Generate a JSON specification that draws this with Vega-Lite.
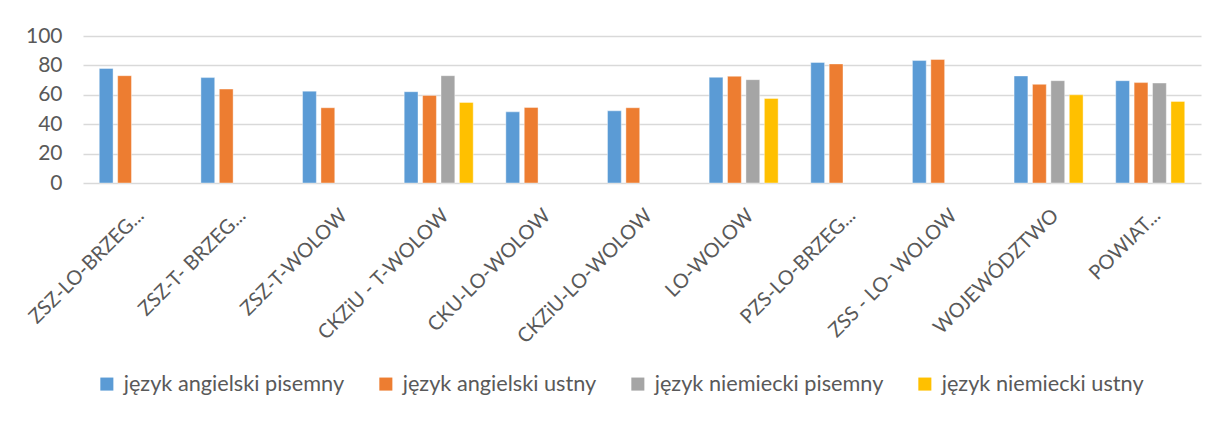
{
  "$schema": "https://vega.github.io/schema/vega-lite/v6.json",
  "autosize": {"type": "none"},
  "width": 1118,
  "height": 147,
  "padding": {"left": 83, "top": 36, "right": 28, "bottom": 240},
  "background": "white",
  "config": {
    "font": "Lato",
    "view": {"stroke": null},
    "axis": {"labelColor": "#595959", "labelFont": "Lato"},
    "legend": {"labelColor": "#595959", "labelFont": "Lato"}
  },
  "data": {
    "values": [
      {"szkola": "ZSZ-LO-BRZEG...", "seria": "język angielski pisemny", "wynik": 77.9},
      {"szkola": "ZSZ-LO-BRZEG...", "seria": "język angielski ustny", "wynik": 73.0},
      {"szkola": "ZSZ-T- BRZEG...", "seria": "język angielski pisemny", "wynik": 71.7},
      {"szkola": "ZSZ-T- BRZEG...", "seria": "język angielski ustny", "wynik": 63.9},
      {"szkola": "ZSZ-T-WOLOW", "seria": "język angielski pisemny", "wynik": 62.5},
      {"szkola": "ZSZ-T-WOLOW", "seria": "język angielski ustny", "wynik": 51.2},
      {"szkola": "CKZiU - T-WOLOW", "seria": "język angielski pisemny", "wynik": 62.1},
      {"szkola": "CKZiU - T-WOLOW", "seria": "język angielski ustny", "wynik": 59.6},
      {"szkola": "CKZiU - T-WOLOW", "seria": "język niemiecki pisemny", "wynik": 73.0},
      {"szkola": "CKZiU - T-WOLOW", "seria": "język niemiecki ustny", "wynik": 54.8},
      {"szkola": "CKU-LO-WOLOW", "seria": "język angielski pisemny", "wynik": 48.4},
      {"szkola": "CKU-LO-WOLOW", "seria": "język angielski ustny", "wynik": 51.4},
      {"szkola": "CKZiU-LO-WOLOW", "seria": "język angielski pisemny", "wynik": 49.1},
      {"szkola": "CKZiU-LO-WOLOW", "seria": "język angielski ustny", "wynik": 51.2},
      {"szkola": "LO-WOLOW", "seria": "język angielski pisemny", "wynik": 71.9},
      {"szkola": "LO-WOLOW", "seria": "język angielski ustny", "wynik": 72.6},
      {"szkola": "LO-WOLOW", "seria": "język niemiecki pisemny", "wynik": 70.3},
      {"szkola": "LO-WOLOW", "seria": "język niemiecki ustny", "wynik": 57.5},
      {"szkola": "PZS-LO-BRZEG...", "seria": "język angielski pisemny", "wynik": 82.0},
      {"szkola": "PZS-LO-BRZEG...", "seria": "język angielski ustny", "wynik": 81.0},
      {"szkola": "ZSS - LO- WOLOW", "seria": "język angielski pisemny", "wynik": 83.3},
      {"szkola": "ZSS - LO- WOLOW", "seria": "język angielski ustny", "wynik": 84.0},
      {"szkola": "WOJEWÓDZTWO", "seria": "język angielski pisemny", "wynik": 72.8},
      {"szkola": "WOJEWÓDZTWO", "seria": "język angielski ustny", "wynik": 67.1},
      {"szkola": "WOJEWÓDZTWO", "seria": "język niemiecki pisemny", "wynik": 69.6},
      {"szkola": "WOJEWÓDZTWO", "seria": "język niemiecki ustny", "wynik": 60.0},
      {"szkola": "POWIAT...", "seria": "język angielski pisemny", "wynik": 69.6},
      {"szkola": "POWIAT...", "seria": "język angielski ustny", "wynik": 68.3},
      {"szkola": "POWIAT...", "seria": "język niemiecki pisemny", "wynik": 68.0},
      {"szkola": "POWIAT...", "seria": "język niemiecki ustny", "wynik": 55.5}
    ]
  },
  "mark": {"type": "bar", "stroke": "white", "strokeOpacity": 0.5, "strokeWidth": 0.8},
  "encoding": {
    "x": {
      "field": "szkola",
      "type": "nominal",
      "sort": null,
      "scale": {"paddingInner": 0.321, "paddingOuter": 0.16},
      "axis": {
        "title": null,
        "labelAngle": -45,
        "labelAlign": "right",
        "labelBaseline": "top",
        "labelFontSize": 20,
        "labelPadding": 22,
        "ticks": false,
        "domain": false,
        "grid": false,
        "labelOverlap": false,
        "labelLimit": 300
      }
    },
    "xOffset": {
      "field": "seria",
      "type": "nominal",
      "scale": {
        "domain": ["język angielski pisemny", "język angielski ustny", "język niemiecki pisemny", "język niemiecki ustny"],
        "paddingInner": 0.25,
        "paddingOuter": 0
      }
    },
    "y": {
      "field": "wynik",
      "type": "quantitative",
      "scale": {"domain": [0, 100], "nice": false},
      "axis": {
        "title": null,
        "values": [0, 20, 40, 60, 80, 100],
        "labelFontSize": 21,
        "labelPadding": 21,
        "ticks": false,
        "tickSize": 0,
        "domain": false,
        "gridColor": "#d9d9d9",
        "gridWidth": 1.5
      }
    },
    "color": {
      "field": "seria",
      "type": "nominal",
      "scale": {
        "domain": ["język angielski pisemny", "język angielski ustny", "język niemiecki pisemny", "język niemiecki ustny"],
        "range": ["#5B9BD5", "#ED7D31", "#A5A5A5", "#FFC000"]
      },
      "legend": {
        "title": null,
        "orient": "none",
        "legendX": 13,
        "legendY": 337,
        "padding": 0,
        "direction": "horizontal",
        "columns": 4,
        "columnPadding": 30,
        "symbolType": "square",
        "symbolSize": 170,
        "symbolStrokeWidth": 0,
        "labelFontSize": 21.7,
        "labelOffset": 6,
        "labelLimit": 400
      }
    }
  }
}
